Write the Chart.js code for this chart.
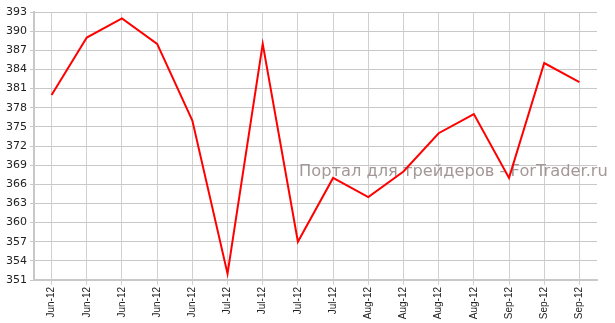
<!DOCTYPE html>
<html lang="ru">
<head>
<meta charset="UTF-8">
<title>Chart</title>
<script src="https://cdn.jsdelivr.net/npm/chart.js"></script>
<style>
  html, body { margin: 0; padding: 0; background: #fff; }
  #wrap { width: 615px; height: 323px; }
</style>
</head>
<body>
<div id="wrap"><canvas id="chart" width="615" height="323"></canvas></div>
<script>
// данные графика
const labels = ["Jun-12", "Jun-12", "Jun-12", "Jun-12", "Jun-12",
                "Jul-12", "Jul-12", "Jul-12", "Jul-12",
                "Aug-12", "Aug-12", "Aug-12", "Aug-12",
                "Sep-12", "Sep-12", "Sep-12"];
const values = [380, 389, 392, 388, 376, 352, 388, 357, 367, 364, 368, 374, 377, 367, 385, 382];
const yMin = 351;
const yMax = 393;
const yStep = 3;
const watermark = "Портал для трейдеров - ForTrader.ru";

// водяной знак под линией
const watermarkPlugin = {
    id: "watermark",
    beforeDatasetsDraw(chart) {
        const ctx = chart.ctx;
        ctx.save();
        let size = 16;
        ctx.font = size + "px 'DejaVu Sans'";
        const w = ctx.measureText(watermark).width;
        size = size * 309 / w;
        ctx.font = size + "px 'DejaVu Sans'";
        ctx.fillStyle = "#a39797";
        ctx.textBaseline = "middle";
        ctx.textAlign = "left";
        ctx.fillText(watermark, 299, 172);
        ctx.restore();
    }
};

new Chart(document.getElementById("chart"), {
    type: "line",
    data: {
        labels: labels,
        datasets: [{
            data: values,
            borderColor: "#ff0000",
            borderWidth: 2,
            pointRadius: 0,
            tension: 0,
            fill: false
        }]
    },
    options: {
        responsive: false,
        animation: false,
        layout: { padding: { top: 12, right: 18, left: 0, bottom: 0 } },
        plugins: {
            legend: { display: false },
            tooltip: { enabled: false }
        },
        scales: {
            x: {
                offset: true,
                grid: { offset: false, color: "#d0d0d0", lineWidth: 1, tickLength: 5 },
                border: { color: "#c8c8c8", width: 2 },
                ticks: {
                    autoSkip: false,
                    maxRotation: 90,
                    minRotation: 90,
                    color: "#222",
                    padding: 2,
                    font: { family: "'Liberation Sans', Arial", size: 10 }
                },
                afterFit(axis) { axis.height = 43; }
            },
            y: {
                min: yMin,
                max: yMax,
                grid: { color: "#c8c8c8", lineWidth: 1, tickLength: 4 },
                border: { color: "#c8c8c8", width: 2 },
                ticks: {
                    stepSize: yStep,
                    color: "#222",
                    padding: 3,
                    font: { family: "'DejaVu Sans', Verdana", size: 11 }
                },
                afterFit(axis) { axis.width = 34; }
            }
        }
    },
    plugins: [watermarkPlugin]
});
</script>
</body>
</html>
